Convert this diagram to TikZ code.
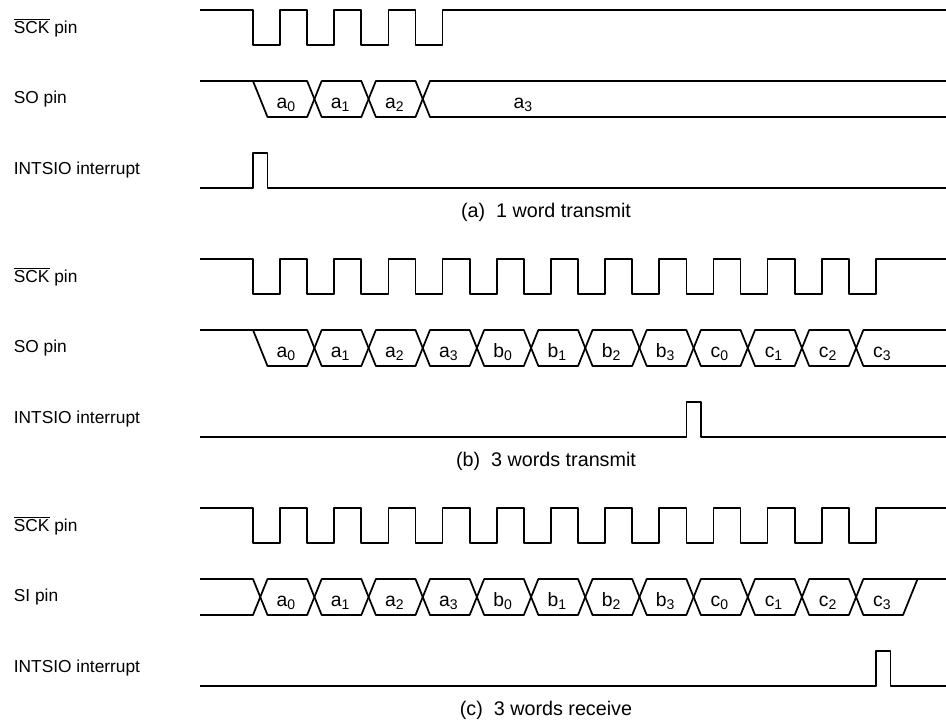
\documentclass[tikz,border=0pt]{standalone}
\usepackage{fontspec}
\setmainfont{Liberation Sans}
\newcommand{\bitname}[2]{#1\raisebox{-2.8pt}{\fontsize{10.5}{12}\selectfont #2}}

\begin{document}
\begin{tikzpicture}[
    x=0.75pt, y=-0.75pt,
    line width=1.3pt, line join=round,
    pin label/.style={anchor=base west, inner sep=0pt, font=\fontsize{13}{15}\selectfont},
    caption/.style={anchor=base, inner sep=0pt, font=\fontsize{14.8}{17}\selectfont},
    bit/.style={anchor=base, inner sep=0pt, font=\fontsize{14.5}{17}\selectfont}
]
    \useasboundingbox (0,0) rectangle (946,721);

    % Pin names
    \foreach \o [count=\i] in {0,249,498} {
        \node[pin label] (sck\i) at (13,33.5+\o) {$\overline{\mbox{SCK}}$ pin};
        \node[pin label] (int\i) at (13,174.5+\o) {INTSIO interrupt};
    }
    \node[pin label] (so1) at (13,103.5) {SO pin};
    \node[pin label] (so2) at (13,352.5) {SO pin};
    \node[pin label] (si3) at (13,601.5) {SI pin};

    % Captions
    \node[caption] (capa) at (546,217.5) {(a)\ \ 1 word transmit};
    \node[caption] (capb) at (546,466.5) {(b)\ \ 3 words transmit};
    \node[caption] (capc) at (546,715.5) {(c)\ \ 3 words receive};

    % Clocks
    \draw (200,10) \foreach \k in {0,...,3} {-- ({253+54.17*\k},10) -- ++(0,35) -- ++(27.08,0) -- ++(0,-35)} -- (946,10);
    \foreach \o in {249,498}
        \draw (200,10+\o) \foreach \k in {0,...,11} {-- ({253+54.17*\k},10+\o) -- ++(0,35) -- ++(27.08,0) -- ++(0,-35)} -- (946,10+\o);

    % (a) SO pin
    \draw (253,81) -- (267.5,117) -- (307.17,117) -- (314.42,99) -- (307.17,81) -- (200,81);
    \foreach \k in {1,2} {
        \pgfmathsetmacro\xa{253+54.17*\k}
        \pgfmathsetmacro\xb{\xa+54.17}
        \draw (\xa+7.25,99) -- (\xa+14.5,81) -- (\xb,81) -- (\xb+7.25,99) -- (\xb,117) -- (\xa+14.5,117) -- cycle;
    }
    \draw (946,81) -- (430.01,81) -- (422.76,99) -- (430.01,117) -- (946,117);
    \foreach \s [count=\k from 0] in {0,1,2}
        \node[bit] (aa\s) at ({253+54.17*\k+33},108) {\bitname{a}{\s}};
    \node[bit] (aa3) at (523,108) {\bitname{a}{3}};

    % (b) SO pin
    \draw (253,330) -- (267.5,366) -- (307.17,366) -- (314.42,348) -- (307.17,330) -- (200,330);
    \foreach \k in {1,...,10} {
        \pgfmathsetmacro\xa{253+54.17*\k}
        \pgfmathsetmacro\xb{\xa+54.17}
        \draw (\xa+7.25,348) -- (\xa+14.5,330) -- (\xb,330) -- (\xb+7.25,348) -- (\xb,366) -- (\xa+14.5,366) -- cycle;
    }
    \draw (946,330) -- (863.37,330) -- (856.12,348) -- (863.37,366) -- (946,366);

    % (c) SI pin
    \draw (200,579) -- (253,579) -- (260.25,597) -- (253,615) -- (200,615);
    \foreach \k in {0,...,10} {
        \pgfmathsetmacro\xa{253+54.17*\k}
        \pgfmathsetmacro\xb{\xa+54.17}
        \draw (\xa+7.25,597) -- (\xa+14.5,579) -- (\xb,579) -- (\xb+7.25,597) -- (\xb,615) -- (\xa+14.5,615) -- cycle;
    }
    \draw (946,579) -- (863.37,579) -- (856.12,597) -- (863.37,615) -- (903.04,615) -- (917.54,579);

    % Bits of (b) and (c)
    \foreach \o/\p in {249/b,498/c}
        \foreach \l/\s [count=\k from 0] in {a/0,a/1,a/2,a/3,b/0,b/1,b/2,b/3,c/0,c/1,c/2,c/3}
            \node[bit] (\p\l\s) at ({253+54.17*\k+33},108+\o) {\bitname{\l}{\s}};

    % Interrupts
    \draw (200,188) -- (253,188) -- ++(0,-35) -- ++(14.5,0) -- ++(0,35) -- (946,188);
    \draw (200,437) -- (686.36,437) -- ++(0,-35) -- ++(14.5,0) -- ++(0,35) -- (946,437);
    \draw (200,686) -- (875.95,686) -- ++(0,-35) -- ++(14.5,0) -- ++(0,35) -- (946,686);
\end{tikzpicture}
\end{document}
